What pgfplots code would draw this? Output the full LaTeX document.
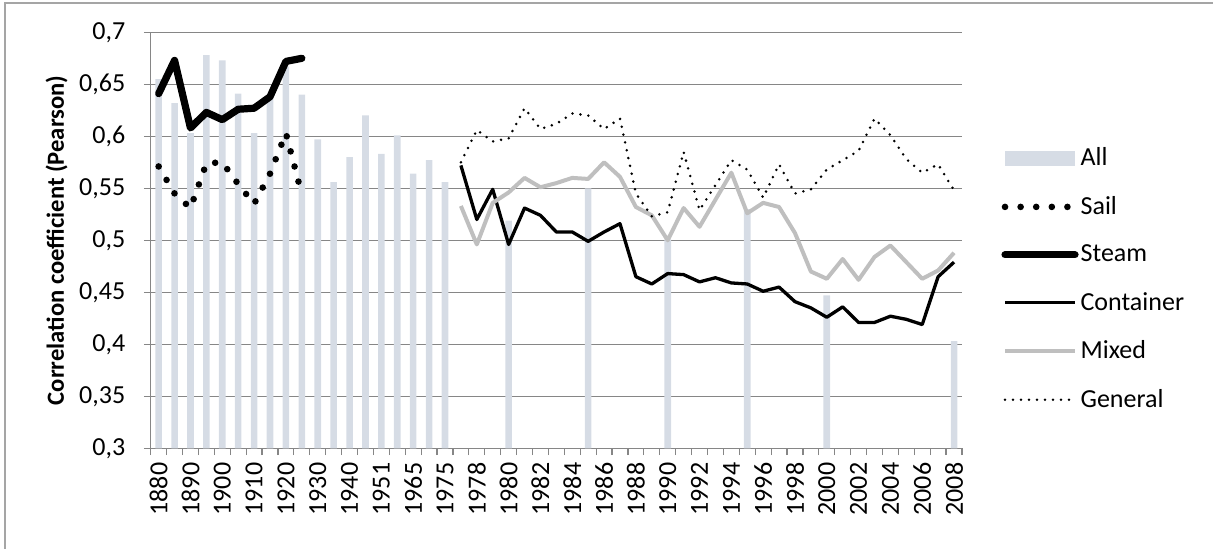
\documentclass[border=0pt,11pt]{standalone}
\usepackage{fontspec}
\setmainfont{Carlito}
\usepackage{pgfplots}
\pgfplotsset{compat=1.18}
\usepackage{pgfplotstable}
\definecolor{barcol}{RGB}{214,220,229}
\definecolor{gridcol}{RGB}{134,134,134}
\definecolor{mixcol}{RGB}{191,191,191}
\definecolor{bordercol}{RGB}{165,165,165}

\pgfplotstableread{
x y
0 0.655
1 0.632
2 0.603
3 0.678
4 0.673
5 0.641
6 0.603
7 0.636
8 0.667
9 0.640
10 0.597
11 0.556
12 0.580
13 0.620
14 0.583
15 0.601
16 0.564
17 0.577
18 0.556
22 0.519
27 0.550
32 0.501
37 0.530
42 0.447
50 0.403
}\allbars

\pgfplotstableread{
x sail steam
0 0.571 0.641
1 0.545 0.673
2 0.531 0.608
3 0.574 0.623
4 0.575 0.616
5 0.554 0.626
6 0.535 0.627
7 0.564 0.638
8 0.603 0.672
9 0.544 0.675
}\early

\pgfplotstableread{
x cont mixed general
19 0.572 0.533 0.575
20 0.520 0.496 0.606
21 0.549 0.536 0.595
22 0.496 0.546 0.598
23 0.531 0.560 0.627
24 0.524 0.551 0.607
25 0.508 0.555 0.612
26 0.508 0.560 0.622
27 0.499 0.559 0.620
28 0.508 0.575 0.607
29 0.516 0.561 0.617
30 0.465 0.532 0.545
31 0.458 0.524 0.523
32 0.468 0.500 0.527
33 0.467 0.531 0.585
34 0.460 0.513 0.529
35 0.464 0.539 0.553
36 0.459 0.565 0.577
37 0.458 0.526 0.568
38 0.451 0.536 0.541
39 0.455 0.532 0.573
40 0.441 0.507 0.545
41 0.435 0.470 0.549
42 0.426 0.463 0.568
43 0.436 0.482 0.577
44 0.421 0.462 0.586
45 0.421 0.484 0.617
46 0.427 0.495 0.601
47 0.424 0.479 0.578
48 0.419 0.463 0.565
49 0.465 0.471 0.573
50 0.479 0.488 0.548
}\late

\begin{document}
\begin{tikzpicture}
\useasboundingbox (0,0) rectangle (606.5pt,274.5pt);
\draw[bordercol, line width=0.75pt] (2.5pt,-2pt) -- (2.5pt,273pt) -- (610pt,273pt);
\begin{axis}[
  at={(75.35pt,50.35pt)}, anchor=south west,
  scale only axis, width=405.65pt, height=208pt,
  xmin=-0.5, xmax=50.5, ymin=0.3, ymax=0.7,
  axis x line*=bottom, axis y line*=left,
  axis line style={gridcol, line width=0.6pt},
  xtick={-0.5,0.5,...,50.5},
  x tick label as interval,
  xticklabels={1880,{},1890,{},1900,{},1910,{},1920,{},1930,{},1940,{},1951,{},1965,{},1975,{},1978,{},1980,{},1982,{},1984,{},1986,{},1988,{},1990,{},1992,{},1994,{},1996,{},1998,{},2000,{},2002,{},2004,{},2006,{},2008},
  ytick={0.3,0.35,0.4,0.45,0.5,0.55,0.6,0.65,0.7},
  scaled y ticks=false,
  ymajorgrids, grid style={gridcol, line width=0.6pt},
  tick align=outside, major tick length=3.4pt,
  tick style={gridcol, line width=0.6pt},
  /pgf/number format/assume math mode=true,
  yticklabel style={/pgf/number format/.cd, use comma, fixed, precision=2, /tikz/.cd, xshift=-5.5pt},
  tick label style={font=\fontsize{13}{15}\selectfont, text=black},
  xticklabel style={rotate=90, anchor=east},
  ylabel={Correlation coefficient (Pearson)},
  ylabel style={at={(axis description cs:-0.1159,0.5)}, anchor=center, font=\fontsize{12.3}{14}\selectfont\bfseries},
  legend style={at={(axis description cs:1.0407,0.738)}, anchor=north west, draw=none, fill=none,
    font=\fontsize{13}{15}\selectfont, row sep=11.6pt, nodes={inner sep=1pt}},
  legend cell align=left,
  legend image code/.code={\draw[#1] (0pt,0pt) -- (35pt,0pt);},
]
\addplot[ybar, bar width=3.3pt, fill=barcol, draw=none,
  legend image code/.code={\fill[barcol] (0pt,-3.75pt) rectangle (35pt,3.75pt);}]
  table[x=x,y=y] {\allbars};
\addlegendentry{All}
\addplot[black, line width=3.3pt, line cap=round, dash pattern=on 0pt off 7.8pt]
  table[x=x,y=sail] {\early};
\addlegendentry{Sail}
\addplot[black, line width=3.6pt, line cap=round, line join=round]
  table[x=x,y=steam] {\early};
\addlegendentry{Steam}
\addplot[black, line width=1.65pt, line join=round]
  table[x=x,y=cont] {\late};
\addlegendentry{Container}
\addplot[mixcol, line width=2pt, line join=round]
  table[x=x,y=mixed] {\late};
\addlegendentry{Mixed}
\addplot[black, line width=1.4pt, line cap=round, dash pattern=on 0pt off 4pt]
  table[x=x,y=general] {\late};
\addlegendentry{General}
\end{axis}
\end{tikzpicture}
\end{document}
